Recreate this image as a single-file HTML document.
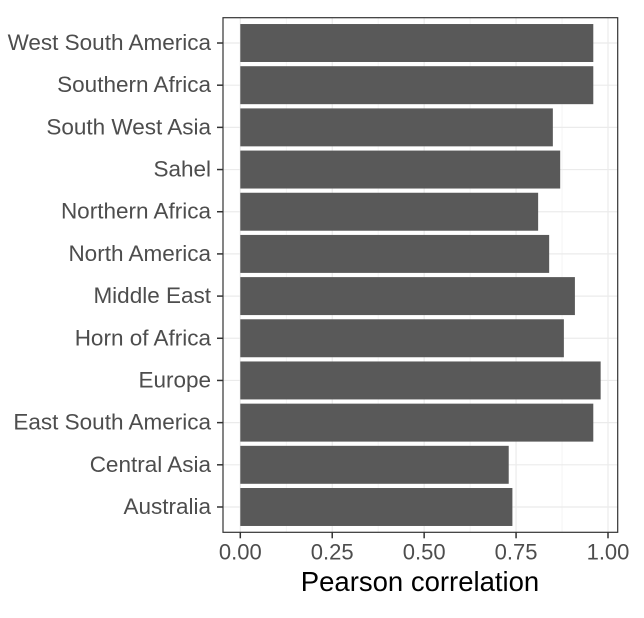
<!DOCTYPE html>
<html><head><meta charset="utf-8"><style>
body{margin:0;background:#fff;}
svg{display:block;font-family:"Liberation Sans",Arial,sans-serif;}
</style></head><body>
<svg id="chart" width="644" height="618">
<rect x="0" y="0" width="644" height="618" fill="#fff"/>
<g id="grid"></g><g id="bars"></g><g id="axes"></g>
<text x="420" y="591" font-size="27.5" text-anchor="middle" fill="#000">Pearson correlation</text>
</svg>
<script>
const categories = ["West South America","Southern Africa","South West Asia","Sahel","Northern Africa","North America","Middle East","Horn of Africa","Europe","East South America","Central Asia","Australia"];
const values = [0.96,0.96,0.85,0.87,0.81,0.84,0.91,0.88,0.98,0.96,0.73,0.74];
const xTicks = [0,0.25,0.5,0.75,1];
const xTickLabels = ["0.00","0.25","0.50","0.75","1.00"];

const NS="http://www.w3.org/2000/svg";
const L=223,R=617.7,T=17.7,B=532.3;
const x0=240.3,x1=608;
const xs=v=>x0+v*(x1-x0);
const n=categories.length;
const unit=(B-T)/(n-1+1.2);
const yc=i=>T+(0.6+i)*unit;
function mk(tag,attrs,parent){const e=document.createElementNS(NS,tag);for(const k in attrs)e.setAttribute(k,attrs[k]);parent.appendChild(e);return e;}
const grid=document.getElementById('grid'),bars=document.getElementById('bars'),axes=document.getElementById('axes');
for(let i=0;i<xTicks.length-1;i++){const v=(xTicks[i]+xTicks[i+1])/2;
 const g=mk('line',{x1:xs(v),x2:xs(v),y1:T,y2:B,stroke:'#f2f2f2','stroke-width':0.8},grid);
 
 }
xTicks.forEach(v=>{const g=mk('line',{x1:xs(v),x2:xs(v),y1:T,y2:B,stroke:'#ebebeb','stroke-width':1.2},grid);
 
 });
categories.forEach((c,i)=>{const g=mk('line',{x1:L,x2:R,y1:yc(i),y2:yc(i),stroke:'#ebebeb','stroke-width':1.2},grid);
 
 });
categories.forEach((c,i)=>{
 const h=unit*0.9;
 const b=mk('rect',{x:xs(0),y:yc(i)-h/2,width:xs(values[i])-xs(0),height:h,fill:'#595959'},bars);
 
 
 const t=mk('line',{x1:L-6,x2:L,y1:yc(i),y2:yc(i),stroke:'#333','stroke-width':1.5},axes);
 
 
 const tx=mk('text',{x:L-12,y:yc(i)+7,'font-size':22.5,'text-anchor':'end',fill:'#4d4d4d'},axes);
 tx.textContent=c;
 
 
});
xTicks.forEach((v,i)=>{
 const t=mk('line',{x1:xs(v),x2:xs(v),y1:B,y2:B+6,stroke:'#333','stroke-width':1.5},axes);
 
 
 const tx=mk('text',{x:xs(v),y:B+27,'font-size':22,'text-anchor':'middle',fill:'#4d4d4d'},axes);
 tx.textContent=xTickLabels[i];
 
 
});
const p=mk('rect',{x:L,y:T,width:R-L,height:B-T,fill:'none',stroke:'#333','stroke-width':1.2},axes);


</script>
</body></html>
